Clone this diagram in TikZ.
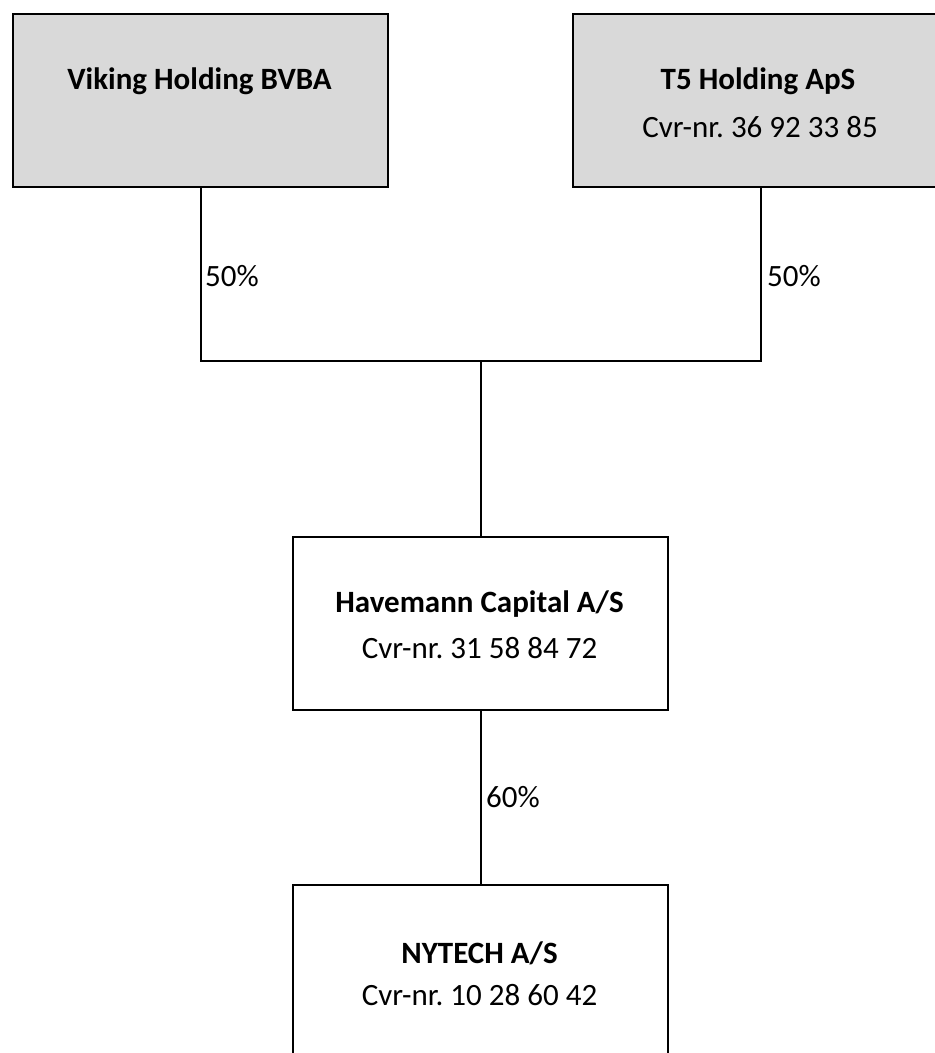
\documentclass[tikz,border=0pt]{standalone}
\usepackage{fontspec}
\setmainfont{Carlito}
\definecolor{boxgray}{HTML}{D9D9D9}
\frenchspacing
\begin{document}
\begin{tikzpicture}[x=1pt,y=-1pt,
  box/.style={draw=black, line width=2.4pt, minimum width=375pt, minimum height=173pt, inner sep=0pt, anchor=north west},
  gbox/.style={box, fill=boxgray},
  conn/.style={draw=black, line width=2.4pt},
  title/.style={anchor=base, inner sep=0pt, font=\fontsize{31}{37}\selectfont\bfseries},
  sub/.style={anchor=base, inner sep=0pt, font=\fontsize{31}{37}\selectfont},
  pct/.style={anchor=base west, inner sep=0pt, font=\fontsize{31}{37}\selectfont}]
\useasboundingbox (0,0) rectangle (935,1053);
\clip (0,0) rectangle (935,1053);
\node[gbox] (viking) at (12,13) {};
\node[gbox] (t5) at (572,13) {};
\node[box] (hav) at (292,536) {};
\node[box] (ny) at (292,884) {};
\node[title] (vikingname) at (199.5,89) {Viking Holding BVBA};
\node[title] (t5name) at (758,89) {T5 Holding ApS};
\node[sub] (t5cvr) at (760,137) {Cvr-nr. 36 92 33 85};
\node[title] (havname) at (479.5,612) {Havemann Capital A/S};
\node[sub] (havcvr) at (479.5,658) {Cvr-nr. 31 58 84 72};
\node[title] (nyname) at (479.5,963) {NYTECH A/S};
\node[sub] (nycvr) at (479.5,1005) {Cvr-nr. 10 28 60 42};
\coordinate (j) at (hav.north |- 0,361);
\draw[conn] (viking.south) |- (j) -| (t5.south);
\draw[conn] (j) -- (hav.north);
\draw[conn] (hav.south) -- (ny.north);
\node[pct] (p1) at (205,286) {50\%};
\node[pct] (p2) at (767,286) {50\%};
\node[pct] (p3) at (486,807) {60\%};
\end{tikzpicture}
\end{document}
